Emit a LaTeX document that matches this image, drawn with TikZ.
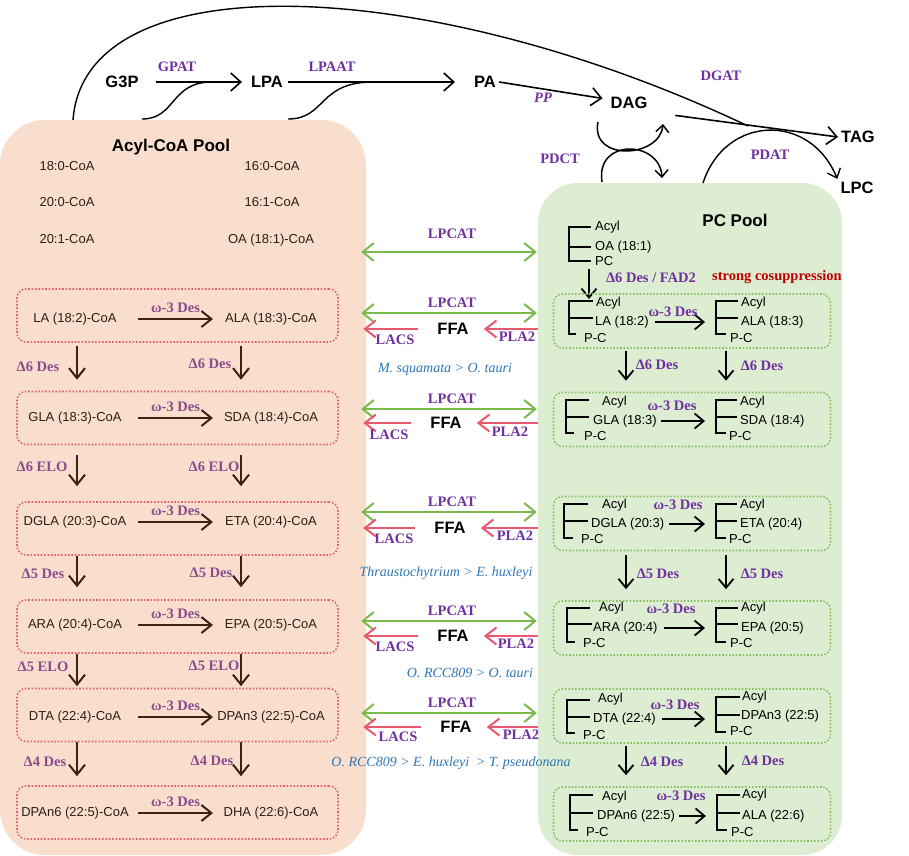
\documentclass[tikz,border=0pt]{standalone}
\usepackage{fontspec}
\setmainfont{Liberation Serif}
\setsansfont{Liberation Sans}
\usepackage{tikz}
\usetikzlibrary{arrows.meta}
\definecolor{coapoolcolor}{HTML}{FADECD}
\definecolor{pcpoolcolor}{HTML}{DCEDD2}
\definecolor{coaboxcolor}{HTML}{E06464}
\definecolor{pcboxcolor}{HTML}{8CBE64}
\definecolor{lpcatcolor}{HTML}{7ABA4C}
\definecolor{lacscolor}{HTML}{E8586E}
\definecolor{coaarrowcolor}{HTML}{3C2314}
\definecolor{coatextcolor}{HTML}{2D1E16}
\definecolor{coalabelcolor}{HTML}{8C4B8C}
\definecolor{pclabelcolor}{HTML}{7030A0}
\definecolor{speciescolor}{HTML}{2E75B6}
\definecolor{cosupcolor}{HTML}{C00000}

\begin{document}
\begin{tikzpicture}[x=1pt, y=-1pt,
  coapool/.style={fill=coapoolcolor, rounded corners=45pt, minimum width=366pt, minimum height=735pt, inner sep=0pt},
  pcpool/.style={fill=pcpoolcolor, rounded corners=40pt, minimum width=304pt, minimum height=672pt, inner sep=0pt},
  coabox/.style={draw=coaboxcolor, line width=1.6pt, dash pattern=on 1.6pt off 1.8pt, rounded corners=9pt, minimum width=321pt, minimum height=53pt},
  pcbox/.style={draw=pcboxcolor, line width=1.6pt, dash pattern=on 1.6pt off 1.8pt, rounded corners=9pt, minimum width=277pt, minimum height=54pt},
  metab/.style={font={\sffamily\bfseries\fontsize{16.5pt}{16.5pt}\selectfont}, text height=11.8pt, text depth=0pt, inner sep=3pt},
  pooltitle/.style={font={\sffamily\bfseries\fontsize{17pt}{17pt}\selectfont}},
  coaacid/.style={text=coatextcolor, font={\sffamily\fontsize{13pt}{13pt}\selectfont}, text height=9.5pt, text depth=2.7pt},
  pcacid/.style={anchor=west, inner sep=1pt, font={\sffamily\fontsize{13pt}{13pt}\selectfont}, text height=9.5pt, text depth=2.7pt},
  enzyme/.style={text=pclabelcolor, font={\bfseries\fontsize{14.5pt}{14.5pt}\selectfont}, text height=10pt, text depth=3pt},
  coaenzyme/.style={enzyme, text=coalabelcolor},
  species/.style={text=speciescolor, font={\itshape\fontsize{14pt}{14pt}\selectfont}},
  rxn/.style={line width=1.6pt, -{Straight Barb[length=10pt,width=18pt]}},
  arcline/.style={line width=1.4pt},
  pdctarrow/.style={line width=1.5pt, -{Straight Barb[length=7pt,width=13pt]}},
  coaarrow/.style={draw=coaarrowcolor, line width=2pt, -{Straight Barb[length=10pt,width=16pt]}},
  pcarrow/.style={line width=1.8pt, -{Straight Barb[length=9pt,width=15pt]}},
  lpcatarrow/.style={draw=lpcatcolor, line width=2pt, shorten <=-5pt, shorten >=1pt, {Straight Barb[length=11pt,width=18pt]}-{Straight Barb[length=11pt,width=18pt]}},
  lacsarrow/.style={draw=lacscolor, line width=2pt, shorten <=16pt, shorten >=-3pt, -{Straight Barb[length=11pt,width=17pt]}},
  pla2arrow/.style={draw=lacscolor, line width=2pt, shorten >=12pt, -{Straight Barb[length=11pt,width=17pt]}},
  bond/.style={line width=2pt},
]%
\useasboundingbox (0,0) rectangle (909,855);%
\node[coapool] (coapool) at (183,487.5) {};%
\node[pcpool] (pcpool) at (690,519) {};%
\node[pooltitle] (coatitle) at (171,147) {Acyl-CoA Pool};%
\node[pooltitle] (pctitle) at (735,220) {PC Pool};%
\node[metab] (g3p) at (122,82) {G3P};%
\node[metab] (lpa) at (267,82) {LPA};%
\node[metab] (pa) at (485,82) {PA};%
\node[metab] (dag) at (629,103) {DAG};%
\node[metab] (tag) at (858,137) {TAG};%
\node[metab] (lpc) at (857,188) {LPC};%
\node[enzyme] (gpat) at (177,68) {GPAT};%
\node[enzyme] (lpaat) at (332,68) {LPAAT};%
\node[enzyme] (pp) at (543,99) {\itshape PP};%
\node[enzyme] (dgat) at (721,77) {DGAT};%
\node[enzyme] (pdct) at (560,160) {PDCT};%
\node[enzyme] (pdat) at (770,156) {PDAT};%
\draw[rxn, shorten <=14pt, shorten >=6pt] (g3p) -- (lpa);%
\draw[rxn, shorten <=2pt, shorten >=16pt] (lpa) -- (pa);%
\draw[rxn, shorten >=5pt] (pa.east) -- (dag.170);%
\draw[rxn, shorten <=25pt] (dag.south east) -- (tag.west);%
\coordinate (gpatfoot) at (142,119);%
\coordinate (gpatjoin) at (212,82);%
\draw[arcline] (gpatfoot) .. controls (176,119) and (170,82) .. (gpatjoin);%
\coordinate (lpaatfoot) at (288,119);%
\coordinate (lpaatjoin) at (373,82);%
\draw[arcline] (lpaatfoot) .. controls (326,119) and (318,82) .. (lpaatjoin);%
\coordinate (dgatfoot) at (73,120);%
\coordinate (dgatjoin) at (748,126);%
\draw[arcline] (dgatfoot) .. controls (85,-40) and (430,-25) .. (dgatjoin);%
\coordinate (pdatfoot) at (703,183);%
\draw[arcline, -{Straight Barb[length=8pt,width=14pt]}] (pdatfoot) .. controls (725,115) and (810,112) .. (lpc.north west);%
\coordinate (pdcttop) at (598,122);%
\coordinate (pdcttopend) at (663,124);%
\draw[pdctarrow] (pdcttop) .. controls (590,162) and (660,158) .. (pdcttopend);%
\coordinate (pdctbot) at (602,182);%
\coordinate (pdctbotend) at (662,178);%
\draw[pdctarrow] (pdctbot) .. controls (595,138) and (660,140) .. (pdctbotend);%
\node[coaacid] (c180) at (67,167) {18:0-CoA};%
\node[coaacid] (c160) at (272,167) {16:0-CoA};%
\node[coaacid] (c200) at (67,203) {20:0-CoA};%
\node[coaacid] (c161) at (272,203) {16:1-CoA};%
\node[coaacid] (c201) at (67,240) {20:1-CoA};%
\node[coaacid] (coaOA) at (271,240) {OA (18:1)-CoA};%
\node[coabox] (coabox1) at (177.5,315.5) {};%
\node[coabox] (coabox2) at (177.5,418) {};%
\node[coabox] (coabox3) at (177.5,528.5) {};%
\node[coabox] (coabox4) at (177.5,626.5) {};%
\node[coabox] (coabox5) at (177.5,715) {};%
\node[coabox] (coabox6) at (177.5,812.5) {};%
\node[coaacid] (coaLA) at (75,319) {LA (18:2)-CoA};%
\node[coaacid] (coaALA) at (271,319) {ALA (18:3)-CoA};%
\node[coaacid] (coaGLA) at (75,418) {GLA (18:3)-CoA};%
\node[coaacid] (coaSDA) at (271,418) {SDA (18:4)-CoA};%
\node[coaacid] (coaDGLA) at (75,522) {DGLA (20:3)-CoA};%
\node[coaacid] (coaETA) at (271,522) {ETA (20:4)-CoA};%
\node[coaacid] (coaARA) at (75,625) {ARA (20:4)-CoA};%
\node[coaacid] (coaEPA) at (271,625) {EPA (20:5)-CoA};%
\node[coaacid] (coaDTA) at (75,717) {DTA (22:4)-CoA};%
\node[coaacid] (coaDPAthree) at (271,717) {DPAn3 (22:5)-CoA};%
\node[coaacid] (coaDPAsix) at (75,813) {DPAn6 (22:5)-CoA};%
\node[coaacid] (coaDHA) at (271,813) {DHA (22:6)-CoA};%
\coordinate (coaomegaL) at (138,0);%
\coordinate (coaomegaR) at (213,0);%
\draw[coaarrow] (coaomegaL |- coaLA) -- node[coaenzyme, above=-1pt] {ω-3 Des} (coaomegaR |- coaLA);%
\draw[coaarrow] (coaomegaL |- coaGLA) -- node[coaenzyme, above=-1pt] {ω-3 Des} (coaomegaR |- coaGLA);%
\draw[coaarrow] (coaomegaL |- coaDGLA) -- node[coaenzyme, above=-1pt] {ω-3 Des} (coaomegaR |- coaDGLA);%
\draw[coaarrow] (coaomegaL |- coaARA) -- node[coaenzyme, above=-1pt] {ω-3 Des} (coaomegaR |- coaARA);%
\draw[coaarrow] (coaomegaL |- coaDTA) -- node[coaenzyme, above=-1pt] {ω-3 Des} (coaomegaR |- coaDTA);%
\draw[coaarrow] (coaomegaL |- coaDPAsix) -- node[coaenzyme, above=-1pt] {ω-3 Des} (coaomegaR |- coaDPAsix);%
\coordinate (coacolL) at (77,0);%
\coordinate (coacolR) at (241,0);%
\draw[coaarrow, shorten <=3pt, shorten >=11pt] (coacolL |- coabox1.south) -- (coacolL |- coabox2.north);%
\draw[coaarrow, shorten <=3pt, shorten >=11pt] (coacolR |- coabox1.south) -- (coacolR |- coabox2.north);%
\draw[coaarrow, shorten <=10pt, shorten >=15pt] (coacolL |- coabox2.south) -- (coacolL |- coabox3.north);%
\draw[coaarrow, shorten <=10pt, shorten >=15pt] (coacolR |- coabox2.south) -- (coacolR |- coabox3.north);%
\draw[coaarrow, shorten >=12pt] (coacolL |- coabox3.south) -- (coacolL |- coabox4.north);%
\draw[coaarrow, shorten >=12pt] (coacolR |- coabox3.south) -- (coacolR |- coabox4.north);%
\draw[coaarrow, shorten >=1.5pt] (coacolL |- coabox4.south) -- (coacolL |- coabox5.north);%
\draw[coaarrow, shorten >=1.5pt] (coacolR |- coabox4.south) -- (coacolR |- coabox5.north);%
\draw[coaarrow, shorten >=9pt] (coacolL |- coabox5.south) -- (coacolL |- coabox6.north);%
\draw[coaarrow, shorten >=9pt] (coacolR |- coabox5.south) -- (coacolR |- coabox6.north);%
\node[coaenzyme] (coad6desL) at (38,368) {Δ6 Des};%
\node[coaenzyme] (coad6desR) at (210,365) {Δ6 Des};%
\node[coaenzyme] (coad6eloL) at (42,468) {Δ6 ELO};%
\node[coaenzyme] (coad6eloR) at (214,468) {Δ6 ELO};%
\node[coaenzyme] (coad5desL) at (43,575) {Δ5 Des};%
\node[coaenzyme] (coad5desR) at (211,574) {Δ5 Des};%
\node[coaenzyme] (coad5eloL) at (43,668) {Δ5 ELO};%
\node[coaenzyme] (coad5eloR) at (214,667) {Δ5 ELO};%
\node[coaenzyme] (coad4desL) at (45,763) {Δ4 Des};%
\node[coaenzyme] (coad4desR) at (212,762) {Δ4 Des};%
\coordinate (lpcatrow0) at (452,252);%
\coordinate (lpcatrow1) at (452,313);%
\coordinate (lpcatrow2) at (452,409);%
\coordinate (lpcatrow3) at (452,512);%
\coordinate (lpcatrow4) at (452,621);%
\coordinate (lpcatrow5) at (452,713);%
\draw[lpcatarrow] (coapool.east |- lpcatrow0) -- node[enzyme, above=6pt] {LPCAT} (pcpool.west |- lpcatrow0);%
\draw[lpcatarrow] (coapool.east |- lpcatrow1) -- node[enzyme, above=-1.5pt] {LPCAT} (pcpool.west |- lpcatrow1);%
\draw[lpcatarrow] (coapool.east |- lpcatrow2) -- node[enzyme, above=-1.5pt] {LPCAT} (pcpool.west |- lpcatrow2);%
\draw[lpcatarrow] (coapool.east |- lpcatrow3) -- node[enzyme, above=-1.5pt] {LPCAT} (pcpool.west |- lpcatrow3);%
\draw[lpcatarrow] (coapool.east |- lpcatrow4) -- node[enzyme, above=-1.5pt] {LPCAT} (pcpool.west |- lpcatrow4);%
\draw[lpcatarrow] (coapool.east |- lpcatrow5) -- node[enzyme, above=-1.5pt] {LPCAT} (pcpool.west |- lpcatrow5);%
\node[metab] (ffa1) at (453,329) {FFA};%
\node[metab] (ffa2) at (446,423) {FFA};%
\node[metab] (ffa3) at (450,528) {FFA};%
\node[metab] (ffa4) at (453,636) {FFA};%
\node[metab] (ffa5) at (456,727) {FFA};%
\draw[lacsarrow] (ffa1) -- (coapool.east |- ffa1);%
\draw[lacsarrow] (ffa2) -- (coapool.east |- ffa2);%
\draw[lacsarrow] (ffa3) -- (coapool.east |- ffa3);%
\draw[lacsarrow] (ffa4) -- (coapool.east |- ffa4);%
\draw[lacsarrow] (ffa5) -- (coapool.east |- ffa5);%
\draw[pla2arrow] (pcpool.west |- ffa1) -- (ffa1);%
\draw[pla2arrow] (pcpool.west |- ffa2) -- (ffa2);%
\draw[pla2arrow] (pcpool.west |- ffa3) -- (ffa3);%
\draw[pla2arrow] (pcpool.west |- ffa4) -- (ffa4);%
\draw[pla2arrow] (pcpool.west |- ffa5) -- (ffa5);%
\node[enzyme] (lacs1) at (395,341) {LACS};%
\node[enzyme] (lacs2) at (389,436) {LACS};%
\node[enzyme] (lacs3) at (394,540) {LACS};%
\node[enzyme] (lacs4) at (395,648) {LACS};%
\node[enzyme] (lacs5) at (398,738) {LACS};%
\node[enzyme] (pla1) at (517,338) {PLA2};%
\node[enzyme] (pla2) at (510,433) {PLA2};%
\node[enzyme] (pla3) at (515,537) {PLA2};%
\node[enzyme] (pla4) at (516,645) {PLA2};%
\node[enzyme] (pla5) at (521,736) {PLA2};%
\node[species] (spec1) at (445,369) {M. squamata > O. tauri};%
\node[species] (spec2) at (446,573) {Thraustochytrium > E. huxleyi};%
\node[species] (spec3) at (470,673) {O. RCC809 > O. tauri};%
\node[species] (spec4) at (451,763) {O. RCC809 > E. huxleyi\ \ > T. pseudonana};%
\draw[bond] (591,227) -- (569,227) -- (569,261) -- (591,261) (569,247) -- (591,247);%
\node[pcacid] (pcacyl0) at (594,227) {Acyl};%
\node[pcacid] (pcOA) at (594,247) {OA (18:1)};%
\node[pcacid] (pcPC) at (594,262) {PC};%
\coordinate (fad2end) at (589,299);%
\draw[pcarrow] (pcPC.south west -| fad2end) -- (fad2end);%
\node[enzyme] (fad2) at (651,279) {Δ6 Des / FAD2};%
\node[enzyme, text=cosupcolor] (cosup) at (777,277) {strong cosuppression};%
\node[pcbox] (pcbox1) at (692,321) {};%
\node[pcbox] (pcbox2) at (692,419.5) {};%
\node[pcbox] (pcbox3) at (692,523.5) {};%
\node[pcbox] (pcbox4) at (692,628) {};%
\node[pcbox] (pcbox5) at (692,716) {};%
\node[pcbox] (pcbox6) at (692,814) {};%
\draw[bond] (593,301) -- (569,301) -- (569,334) -- (576,334) (569,318) -- (593,318);%
\node[pcacid] (pcacyl1) at (595,303) {Acyl};%
\node[pcacid] (pcLA) at (594,322) {LA (18:2)};%
\node[pcacid] (pcpc1) at (583,339) {P-C};%
\coordinate (pcR1) at (716,318);%
\draw[bond] (738,301) -- (716,301) -- (716,334) -- (726,334) (716,318) -- (738,318);%
\node[pcacid] (pcracyl1) at (740,303) {Acyl};%
\node[pcacid] (pcALA) at (740,322) {ALA (18:3)};%
\node[pcacid] (pcrpc1) at (729,339) {P-C};%
\draw[bond] (589,400) -- (566,400) -- (566,433) -- (574,433) (566,417) -- (589,417);%
\node[pcacid] (pcacyl2) at (601,402) {Acyl};%
\node[pcacid] (pcGLA) at (592,421) {GLA (18:3)};%
\node[pcacid] (pcpc2) at (583,437) {P-C};%
\coordinate (pcR2) at (716,417);%
\draw[bond] (737,400) -- (716,400) -- (716,433) -- (726,433) (716,417) -- (737,417);%
\node[pcacid] (pcracyl2) at (739,402) {Acyl};%
\node[pcacid] (pcSDA) at (739,421) {SDA (18:4)};%
\node[pcacid] (pcrpc2) at (728,437) {P-C};%
\draw[bond] (588,504) -- (564,504) -- (564,538) -- (573,538) (564,521) -- (588,521);%
\node[pcacid] (pcacyl3) at (601,505) {Acyl};%
\node[pcacid] (pcDGLA) at (590,524) {DGLA (20:3)};%
\node[pcacid] (pcpc3) at (580,540) {P-C};%
\coordinate (pcR3) at (716,521);%
\draw[bond] (737,504) -- (716,504) -- (716,538) -- (726,538) (716,521) -- (737,521);%
\node[pcacid] (pcracyl3) at (739,505) {Acyl};%
\node[pcacid] (pcETA) at (739,524) {ETA (20:4)};%
\node[pcacid] (pcrpc3) at (728,540) {P-C};%
\draw[bond] (590,608) -- (567,608) -- (567,642) -- (575,642) (567,624) -- (592,624);%
\node[pcacid] (pcacyl4) at (598,608) {Acyl};%
\node[pcacid] (pcARA) at (592,628) {ARA (20:4)};%
\node[pcacid] (pcpc4) at (582,644) {P-C};%
\coordinate (pcR4) at (716,624);%
\draw[bond] (738,608) -- (716,608) -- (716,642) -- (726,642) (716,624) -- (738,624);%
\node[pcacid] (pcracyl4) at (740,608) {Acyl};%
\node[pcacid] (pcEPA) at (740,628) {EPA (20:5)};%
\node[pcacid] (pcrpc4) at (729,644) {P-C};%
\draw[bond] (590,700) -- (567,700) -- (567,733) -- (575,733) (567,717) -- (590,717);%
\node[pcacid] (pcacyl5) at (597,699) {Acyl};%
\node[pcacid] (pcDTA) at (592,719) {DTA (22:4)};%
\node[pcacid] (pcpc5) at (582,736) {P-C};%
\coordinate (pcR5) at (716,715);%
\draw[bond] (740,697) -- (716,697) -- (716,732) -- (726,732) (716,715) -- (740,715);%
\node[pcacid] (pcracyl5) at (741,697) {Acyl};%
\node[pcacid] (pcDPAthree) at (740,716) {DPAn3 (22:5)};%
\node[pcacid] (pcrpc5) at (729,732) {P-C};%
\draw[bond] (593,795) -- (570,795) -- (570,830) -- (578,830) (570,813) -- (593,813);%
\node[pcacid] (pcacyl6) at (601,797) {Acyl};%
\node[pcacid] (pcDPAsix) at (596,816) {DPAn6 (22:5)};%
\node[pcacid] (pcpc6) at (585,833) {P-C};%
\coordinate (pcR6) at (717,813);%
\draw[bond] (740,795) -- (717,795) -- (717,830) -- (727,830) (717,813) -- (740,813);%
\node[pcacid] (pcracyl6) at (741,795) {Acyl};%
\node[pcacid] (pcALAsix) at (741,816) {ALA (22:6)};%
\node[pcacid] (pcrpc6) at (730,833) {P-C};%
\draw[pcarrow, shorten <=5pt, shorten >=11pt] (pcLA.east) -- (pcLA.east -| pcR1);%
\draw[pcarrow, shorten <=3pt, shorten >=11pt] (pcGLA.east) -- (pcGLA.east -| pcR2);%
\draw[pcarrow, shorten <=4pt, shorten >=11pt] (pcDGLA.east) -- (pcDGLA.east -| pcR3);%
\draw[pcarrow, shorten <=5pt, shorten >=11pt] (pcARA.east) -- (pcARA.east -| pcR4);%
\draw[pcarrow, shorten <=5pt, shorten >=11pt] (pcDTA.east) -- (pcDTA.east -| pcR5);%
\draw[pcarrow, shorten <=3pt, shorten >=11pt] (pcDPAsix.east) -- (pcDPAsix.east -| pcR6);%
\node[enzyme] (pcomega1) at (673,313) {ω-3 Des};%
\node[enzyme] (pcomega2) at (672,407) {ω-3 Des};%
\node[enzyme] (pcomega3) at (678,506) {ω-3 Des};%
\node[enzyme] (pcomega4) at (671,610) {ω-3 Des};%
\node[enzyme] (pcomega5) at (675,706) {ω-3 Des};%
\node[enzyme] (pcomega6) at (681,797) {ω-3 Des};%
\coordinate (pccolL) at (626,0);%
\coordinate (pccolR) at (726,0);%
\draw[pcarrow, shorten <=2pt, shorten >=11pt] (pccolL |- pcbox1.south) -- (pccolL |- pcbox2.north);%
\draw[pcarrow, shorten <=2pt, shorten >=11pt] (pccolR |- pcbox1.south) -- (pccolR |- pcbox2.north);%
\draw[pcarrow, shorten <=4pt, shorten >=11pt] (pccolL |- pcbox3.south) -- (pccolL |- pcbox4.north);%
\draw[pcarrow, shorten <=4pt, shorten >=11pt] (pccolR |- pcbox3.south) -- (pccolR |- pcbox4.north);%
\draw[pcarrow, shorten <=2pt, shorten >=11pt] (pccolL |- pcbox5.south) -- (pccolL |- pcbox6.north);%
\draw[pcarrow, shorten <=2pt, shorten >=11pt] (pccolR |- pcbox5.south) -- (pccolR |- pcbox6.north);%
\node[enzyme] (pcd6desL) at (657,366) {Δ6 Des};%
\node[enzyme] (pcd6desR) at (762,367) {Δ6 Des};%
\node[enzyme] (pcd5desL) at (658,575) {Δ5 Des};%
\node[enzyme] (pcd5desR) at (762,575) {Δ5 Des};%
\node[enzyme] (pcd4desL) at (662,763) {Δ4 Des};%
\node[enzyme] (pcd4desR) at (763,762) {Δ4 Des};%
\end{tikzpicture}
\end{document}
